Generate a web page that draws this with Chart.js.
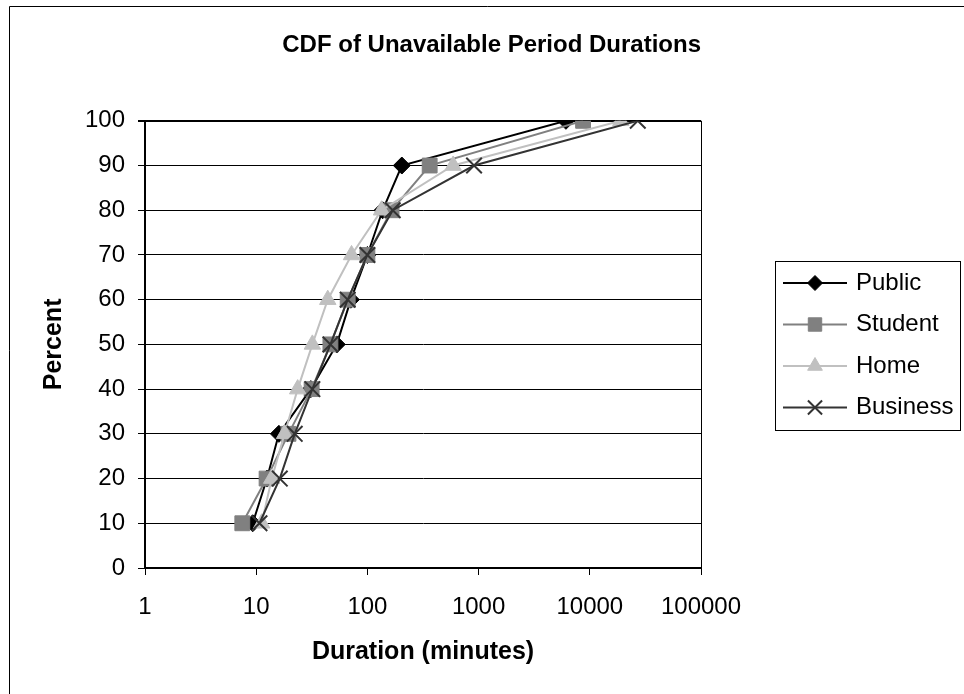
<!DOCTYPE html>
<html>
<head>
<meta charset="utf-8">
<title>CDF of Unavailable Period Durations</title>
<script src="https://cdn.jsdelivr.net/npm/chart.js@4.4.0/dist/chart.umd.min.js"></script>
<style>
  body { margin: 0; background: #fff; }
  #wrap { width: 964px; height: 694px; }
</style>
</head>
<body>
<div id="wrap"><canvas id="cdf-chart" width="964" height="694"></canvas></div>
<script>
// percentile levels (y) and the duration in minutes each group reaches (x)
const percents = [10, 20, 30, 40, 50, 60, 70, 80, 90, 100];
const publicMinutes = [9.3, 12.5, 16, 31, 53, 71, 100, 137, 204, 6100];
const studentMinutes = [7.5, 12.4, 19.5, 31.5, 46.5, 66.5, 100, 165, 363, 8700];
const homeMinutes = [11.2, 13.8, 18, 23.6, 32, 44, 72, 134, 590, 19000];
const businessMinutes = [10.7, 16.3, 22.2, 32, 46.5, 66.5, 100, 169, 910, 27000];

const seriesNames = ["Public", "Student", "Home", "Business"];
const xTickValues = [1, 10, 100, 1000, 10000, 100000];

const FONT = "'Liberation Sans', Arial, sans-serif";
Chart.defaults.font.family = FONT;
Chart.defaults.color = "#000";

function toPoints(minutes) {
  return minutes.map((m, i) => ({ x: m, y: percents[i] }));
}

const styles = [
  { color: "#000000", fill: "#000000", pointStyle: "rectRot", radius: 8.5 },
  { color: "#808080", fill: "#808080", pointStyle: "rect", radius: 10.5 },
  { color: "#c0c0c0", fill: "#c0c0c0", pointStyle: "triangle", radius: 9.5 },
  { color: "#333333", fill: "#333333", pointStyle: "crossRot", radius: 11 },
];
const allMinutes = [publicMinutes, studentMinutes, homeMinutes, businessMinutes];

const datasets = seriesNames.map((name, i) => ({
  label: name,
  data: toPoints(allMinutes[i]),
  order: seriesNames.length - 1 - i, // later series sit on top
  borderColor: styles[i].color,
  backgroundColor: styles[i].fill,
  borderWidth: 2,
  pointStyle: styles[i].pointStyle,
  pointRadius: styles[i].radius,
  pointBackgroundColor: styles[i].fill,
  pointBorderColor: styles[i].color,
  pointBorderWidth: i === 3 ? 2 : 1,
  tension: 0,
}));

// page frame (left and top edges show in the picture)
const frame = {
  id: "frame",
  beforeDraw(chart) {
    const ctx = chart.ctx;
    ctx.save();
    ctx.fillStyle = "#fff";
    ctx.fillRect(0, 0, chart.width, chart.height);
    ctx.strokeStyle = "#000";
    ctx.lineWidth = 1;
    ctx.beginPath();
    ctx.moveTo(9.5, chart.height + 2);
    ctx.lineTo(9.5, 6.5);
    ctx.lineTo(chart.width + 2, 6.5);
    ctx.stroke();
    ctx.restore();
  },
};

// boxed legend on the right, with line + marker samples
const legendBox = {
  id: "legendBox",
  afterDraw(chart) {
    const ctx = chart.ctx;
    ctx.save();
    ctx.strokeStyle = "#000";
    ctx.lineWidth = 1;
    ctx.strokeRect(775.5, 261.5, 185, 169);
    chart.data.datasets.forEach((ds, i) => {
      const y = 283 + i * 41.5;
      ctx.strokeStyle = ds.borderColor;
      ctx.lineWidth = 2;
      ctx.beginPath();
      ctx.moveTo(783, y);
      ctx.lineTo(847, y);
      ctx.stroke();
      ctx.fillStyle = ds.pointBackgroundColor;
      ctx.strokeStyle = ds.pointBorderColor;
      ctx.lineWidth = ds.pointBorderWidth;
      Chart.helpers.drawPoint(ctx, {
        pointStyle: ds.pointStyle,
        radius: ds.pointRadius - 1,
        rotation: 0,
        borderWidth: ds.pointBorderWidth,
      }, 815, y);
      ctx.fillStyle = "#000";
      ctx.font = "24px " + FONT;
      ctx.textBaseline = "middle";
      ctx.textAlign = "left";
      ctx.fillText(ds.label, 856, y);
    });
    ctx.restore();
  },
};

new Chart(document.getElementById("cdf-chart"), {
  type: "line",
  data: { datasets },
  options: {
    responsive: false,
    animation: false,
    layout: { padding: { left: 0, right: 263, top: 0, bottom: 0 } },
    plugins: {
      legend: { display: false },
      tooltip: { enabled: false },
      title: {
        display: true,
        text: "CDF of Unavailable Period Durations",
        align: "end",
        font: { size: 24, weight: "bold" },
        color: "#000",
        padding: { top: 31, bottom: 61 },
      },
    },
    scales: {
      x: {
        type: "logarithmic",
        min: 1,
        max: 100000,
        afterBuildTicks: (scale) => {
          scale.ticks = xTickValues.map((v) => ({ value: v }));
        },
        afterFit: (scale) => {
          scale.height = 126;
        },
        ticks: {
          font: { size: 24 },
          color: "#000",
          padding: 18,
          maxRotation: 0,
          autoSkip: false,
          callback: (v) => String(v),
        },
        grid: {
          color: (c) => (c.tick && c.tick.value === 100000 ? "#000" : "rgba(0,0,0,0)"),
          tickColor: "#000",
          tickLength: 7,
        },
        border: { color: "#000", width: 2 },
        title: {
          display: true,
          text: "Duration (minutes)",
          font: { size: 25, weight: "bold" },
          color: "#000",
          padding: { top: 0, bottom: 27 },
        },
      },
      y: {
        type: "linear",
        min: 0,
        max: 100,
        afterFit: (scale) => {
          scale.width = 145;
        },
        ticks: {
          stepSize: 10,
          font: { size: 24 },
          color: "#000",
          padding: 13,
        },
        grid: {
          color: "#000",
          lineWidth: (c) => (c.tick && c.tick.value === 100 ? 2 : 1),
          tickColor: "#000",
          tickLength: 7,
        },
        border: { color: "#000", width: 2 },
        title: {
          display: true,
          text: "Percent",
          font: { size: 25, weight: "bold" },
          color: "#000",
          padding: { top: 39, bottom: 0 },
        },
      },
    },
  },
  plugins: [frame, legendBox],
});
</script>
</body>
</html>
